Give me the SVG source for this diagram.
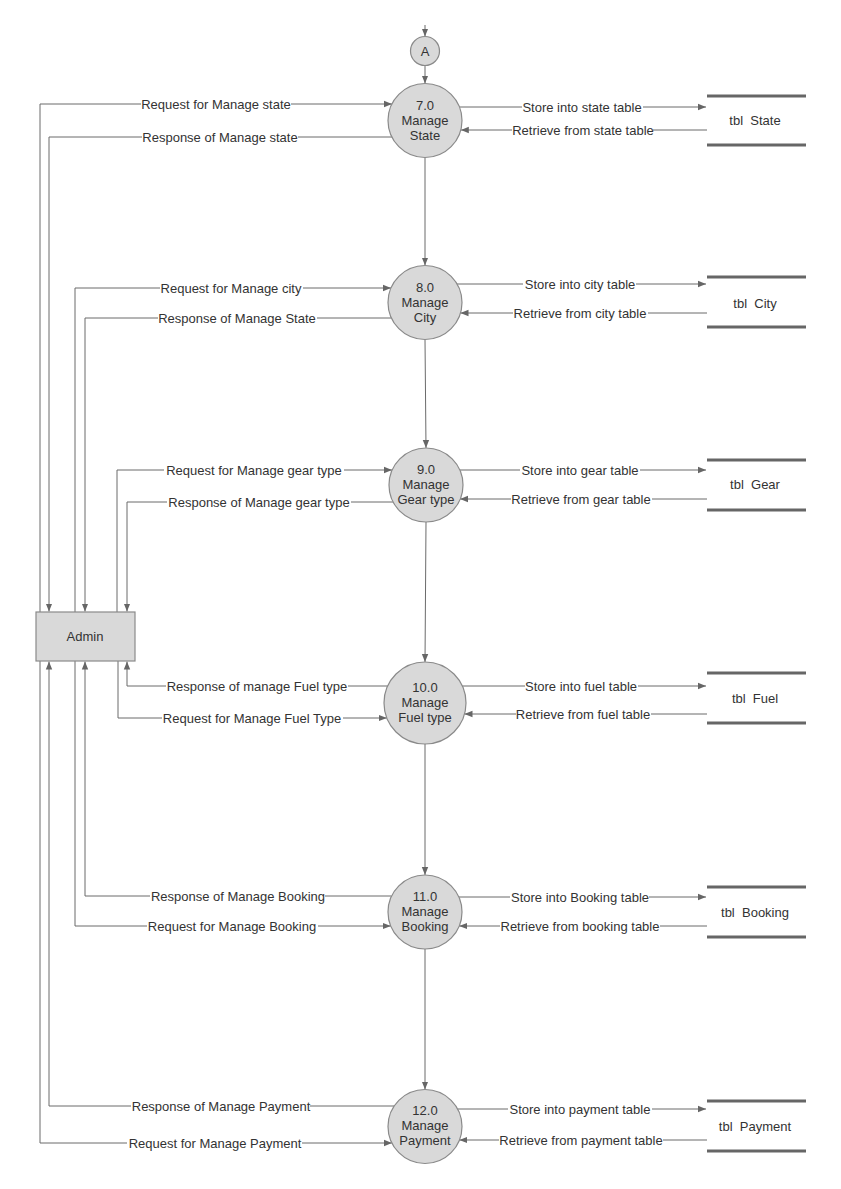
<svg xmlns="http://www.w3.org/2000/svg" width="841" height="1189" viewBox="0 0 841 1189">
<style>
text{font-family:"Liberation Sans",Arial,sans-serif;font-size:13px;fill:#333;text-anchor:middle;white-space:pre}
.ln{fill:none;stroke:#6b6b6b;stroke-width:1}
.bg{fill:#fff}
.proc{fill:#d9d9d9;stroke:#8a8a8a;stroke-width:1.2}
.ds{stroke:#666;stroke-width:3}
</style>
<defs>
<marker id="arr" viewBox="0 0 10 10" refX="10" refY="5" markerWidth="8" markerHeight="8" markerUnits="userSpaceOnUse" orient="auto">
<path d="M0,1 L10,5 L0,9 z" fill="#666"/>
</marker>
</defs>
<rect width="841" height="1189" fill="#fff"/>

<g id="connectors">
<!-- off-page connector into A and A to 7.0 -->
<line class="ln" x1="425" y1="25" x2="425" y2="36.5" marker-end="url(#arr)"/>
<line class="ln" x1="425" y1="65.5" x2="425" y2="83.5" marker-end="url(#arr)"/>
<!-- process flow -->
<line class="ln" x1="425" y1="157.5" x2="425" y2="265.5" marker-end="url(#arr)"/>
<line class="ln" x1="425" y1="339.5" x2="426" y2="448" marker-end="url(#arr)"/>
<line class="ln" x1="426" y1="522" x2="425" y2="662" marker-end="url(#arr)"/>
<line class="ln" x1="425" y1="744" x2="425" y2="875" marker-end="url(#arr)"/>
<line class="ln" x1="425" y1="949" x2="425" y2="1089.5" marker-end="url(#arr)"/>

<!-- Admin flows -->
<polyline class="ln" points="40,612 40,104 392,104" marker-end="url(#arr)"/>
<polyline class="ln" points="392,137 49,137 49,611.5" marker-end="url(#arr)"/>
<polyline class="ln" points="75,612 75,288 391,288" marker-end="url(#arr)"/>
<polyline class="ln" points="391.4,318 85,318 85,611.5" marker-end="url(#arr)"/>
<polyline class="ln" points="117,612 117,470 392,470" marker-end="url(#arr)"/>
<polyline class="ln" points="393,502 127,502 127,611.5" marker-end="url(#arr)"/>
<polyline class="ln" points="387.7,686 127,686 127,661.5" marker-end="url(#arr)"/>
<polyline class="ln" points="118,661 118,718 386.8,718" marker-end="url(#arr)"/>
<polyline class="ln" points="391.6,896 85,896 85,661.5" marker-end="url(#arr)"/>
<polyline class="ln" points="75,661 75,926 390.8,926" marker-end="url(#arr)"/>
<polyline class="ln" points="394.2,1106 49,1106 49,661.5" marker-end="url(#arr)"/>
<polyline class="ln" points="40,661 40,1143 391.9,1143" marker-end="url(#arr)"/>

<!-- Data store flows -->
<line class="ln" x1="459.4" y1="107" x2="706" y2="107" marker-end="url(#arr)"/>
<line class="ln" x1="707" y1="130" x2="460.8" y2="130" marker-end="url(#arr)"/>
<line class="ln" x1="457" y1="284" x2="706" y2="284" marker-end="url(#arr)"/>
<line class="ln" x1="707" y1="313" x2="460.5" y2="313" marker-end="url(#arr)"/>
<line class="ln" x1="459.8" y1="470" x2="706" y2="470" marker-end="url(#arr)"/>
<line class="ln" x1="707" y1="499" x2="460" y2="499" marker-end="url(#arr)"/>
<line class="ln" x1="462.3" y1="686" x2="706" y2="686" marker-end="url(#arr)"/>
<line class="ln" x1="707" y1="714" x2="464.5" y2="714" marker-end="url(#arr)"/>
<line class="ln" x1="458.8" y1="897" x2="706" y2="897" marker-end="url(#arr)"/>
<line class="ln" x1="707" y1="926" x2="459.2" y2="926" marker-end="url(#arr)"/>
<line class="ln" x1="457.6" y1="1109" x2="706" y2="1109" marker-end="url(#arr)"/>
<line class="ln" x1="707" y1="1140" x2="459.4" y2="1140" marker-end="url(#arr)"/>

<!-- labels -->
<rect class="bg" x="141" y="97" width="150" height="14"/><text x="216" y="108.5">Request for Manage state</text>
<rect class="bg" x="142" y="130" width="156" height="14"/><text x="220" y="141.5">Response of Manage state</text>
<rect class="bg" x="522" y="100" width="121" height="14"/><text x="582" y="111.5">Store into state table</text>
<rect class="bg" x="512" y="123" width="141" height="14"/><text x="583" y="134.5">Retrieve from state table</text>

<rect class="bg" x="160" y="281" width="143" height="14"/><text x="231" y="292.5">Request for Manage city</text>
<rect class="bg" x="158" y="311" width="159" height="14"/><text x="237" y="322.5">Response of Manage State</text>
<rect class="bg" x="523" y="277" width="113" height="14"/><text x="580" y="288.5">Store into city table</text>
<rect class="bg" x="513" y="306" width="135" height="14"/><text x="580" y="317.5">Retrieve from city table</text>

<rect class="bg" x="164" y="463" width="180" height="14"/><text x="254" y="474.5">Request for Manage gear type</text>
<rect class="bg" x="167" y="495" width="184" height="14"/><text x="259" y="506.5">Response of Manage gear type</text>
<rect class="bg" x="520" y="463" width="120" height="14"/><text x="580" y="474.5">Store into gear table</text>
<rect class="bg" x="511" y="492" width="141" height="14"/><text x="581" y="503.5">Retrieve from gear table</text>

<rect class="bg" x="166" y="679" width="182" height="14"/><text x="257" y="690.5">Response of manage Fuel type</text>
<rect class="bg" x="162" y="711" width="181" height="14"/><text x="252" y="722.5">Request for Manage Fuel Type</text>
<rect class="bg" x="525" y="679" width="113" height="14"/><text x="581" y="690.5">Store into fuel table</text>
<rect class="bg" x="516" y="707" width="135" height="14"/><text x="583" y="718.5">Retrieve from fuel table</text>

<rect class="bg" x="150" y="889" width="175" height="14"/><text x="238" y="900.5">Response of Manage Booking</text>
<rect class="bg" x="147" y="919" width="171" height="14"/><text x="232" y="930.5">Request for Manage Booking</text>
<rect class="bg" x="510" y="890" width="139" height="14"/><text x="580" y="901.5">Store into Booking table</text>
<rect class="bg" x="500" y="919" width="160" height="14"/><text x="580" y="930.5">Retrieve from booking table</text>

<rect class="bg" x="131" y="1099" width="179" height="14"/><text x="221" y="1110.5">Response of Manage Payment</text>
<rect class="bg" x="127" y="1136" width="175" height="14"/><text x="215" y="1147.5">Request for Manage Payment</text>
<rect class="bg" x="508" y="1102" width="144" height="14"/><text x="580" y="1113.5">Store into payment table</text>
<rect class="bg" x="499" y="1133" width="164" height="14"/><text x="581" y="1144.5">Retrieve from payment table</text>
</g>

<g id="connector-A">
<circle class="proc" cx="425" cy="51" r="14.5"/>
<text x="425" y="55.5">A</text>
</g>

<g id="admin">
<rect class="proc" x="36" y="612" width="99" height="49"/>
<text x="85" y="641">Admin</text>
</g>

<g id="p7">
<circle class="proc" cx="425" cy="120.5" r="37"/>
<text x="425" y="110">7.0</text><text x="425" y="125">Manage</text><text x="425" y="140">State</text>
</g>
<g id="p8">
<circle class="proc" cx="425" cy="302.5" r="37"/>
<text x="425" y="292">8.0</text><text x="425" y="307">Manage</text><text x="425" y="322">City</text>
</g>
<g id="p9">
<circle class="proc" cx="426" cy="485" r="37"/>
<text x="426" y="474">9.0</text><text x="426" y="489">Manage</text><text x="426" y="504">Gear type</text>
</g>
<g id="p10">
<circle class="proc" cx="425" cy="703" r="41"/>
<text x="425" y="692">10.0</text><text x="425" y="707">Manage</text><text x="425" y="722">Fuel type</text>
</g>
<g id="p11">
<circle class="proc" cx="425" cy="912" r="37"/>
<text x="425" y="901">11.0</text><text x="425" y="916">Manage</text><text x="425" y="931">Booking</text>
</g>
<g id="p12">
<circle class="proc" cx="425" cy="1126.5" r="37"/>
<text x="425" y="1115">12.0</text><text x="425" y="1130">Manage</text><text x="425" y="1145">Payment</text>
</g>

<g id="ds-state">
<line class="ds" x1="707" y1="96" x2="806" y2="96"/><line class="ds" x1="707" y1="145" x2="806" y2="145"/>
<text x="755" y="125">tbl  State</text>
</g>
<g id="ds-city">
<line class="ds" x1="707" y1="277" x2="806" y2="277"/><line class="ds" x1="707" y1="327" x2="806" y2="327"/>
<text x="755" y="307.5">tbl  City</text>
</g>
<g id="ds-gear">
<line class="ds" x1="707" y1="460" x2="806" y2="460"/><line class="ds" x1="707" y1="510" x2="806" y2="510"/>
<text x="755" y="489">tbl  Gear</text>
</g>
<g id="ds-fuel">
<line class="ds" x1="707" y1="673" x2="806" y2="673"/><line class="ds" x1="707" y1="723" x2="806" y2="723"/>
<text x="755" y="703">tbl  Fuel</text>
</g>
<g id="ds-booking">
<line class="ds" x1="707" y1="887" x2="806" y2="887"/><line class="ds" x1="707" y1="937" x2="806" y2="937"/>
<text x="755" y="916.5">tbl  Booking</text>
</g>
<g id="ds-payment">
<line class="ds" x1="707" y1="1101" x2="806" y2="1101"/><line class="ds" x1="707" y1="1151" x2="806" y2="1151"/>
<text x="755" y="1130.5">tbl  Payment</text>
</g>
</svg>
